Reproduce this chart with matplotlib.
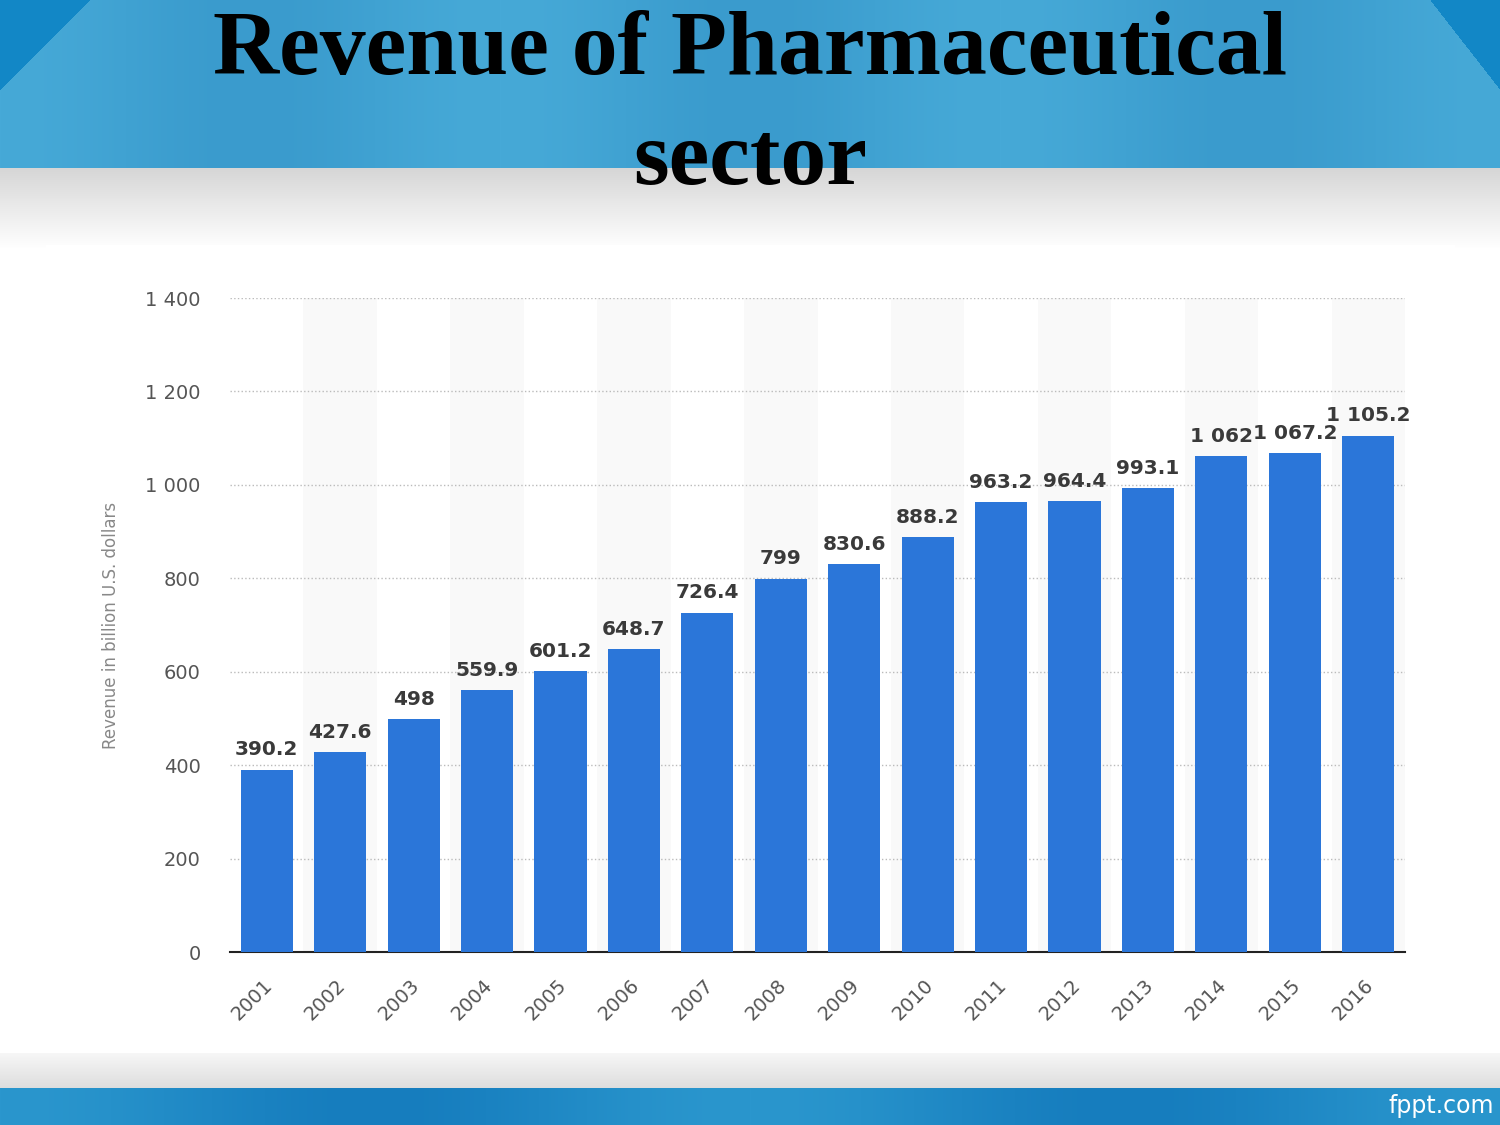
import numpy as np
import matplotlib
matplotlib.use('Agg')
import matplotlib.pyplot as plt
import matplotlib.transforms as mtransforms
from matplotlib.ticker import FuncFormatter

years = ['2001', '2002', '2003', '2004', '2005', '2006', '2007', '2008',
         '2009', '2010', '2011', '2012', '2013', '2014', '2015', '2016']
revenue = [390.2, 427.6, 498, 559.9, 601.2, 648.7, 726.4, 799,
           830.6, 888.2, 963.2, 964.4, 993.1, 1062, 1067.2, 1105.2]
yticks = [0, 200, 400, 600, 800, 1000, 1200, 1400]

bar_colour = '#2b76d9'


def fmt_num(v):
    # thousands separated by a space, decimals kept when present
    if float(v).is_integer():
        s = '{:,.0f}'.format(v)
    else:
        s = '{:,.1f}'.format(v)
    return s.replace(',', ' ')


fig = plt.figure(figsize=(15, 11.25), dpi=100)

# ---- slide background -------------------------------------------------------
H, W = 1125, 1500
bg = np.ones((H, W, 3))
yy = np.arange(H)[:, None]
xx = np.arange(W)[None, :]
top = yy < 168
blue_top = np.zeros((H, W, 3))
shade = 0.5 + 0.5 * np.cos((xx / W) * 6 * np.pi)
blue_top[..., 0] = (58 + 12 * shade) / 255
blue_top[..., 1] = (155 + 14 * shade) / 255
blue_top[..., 2] = (205 + 10 * shade) / 255
corner = ((xx + yy < 90) | (xx > 1430 + yy * 0.78))
for c, v in enumerate((18, 135, 198)):
    blue_top[..., c] = np.where(corner, v / 255, blue_top[..., c])
fade = np.clip((yy - 168) / 80.0, 0, 1)
grey = 0.84 + 0.16 * fade
for c in range(3):
    bg[..., c] = np.where(top, blue_top[..., c], grey)
low = np.clip((yy - 1052) / 35.0, 0, 1)
for c in range(3):
    bg[..., c] = np.where(yy > 1052, 0.97 - 0.1 * low, bg[..., c])
band = yy > 1087
band_shade = 0.5 + 0.5 * np.cos((xx / W) * 4 * np.pi)
for c, (v, d) in enumerate(((22, 20), (125, 25), (190, 15))):
    bg[..., c] = np.where(band, (v + d * band_shade) / 255, bg[..., c])
bax = fig.add_axes([0, 0, 1, 1])
bax.imshow(bg, aspect='auto', extent=(0, 1, 0, 1), zorder=0)
bax.axis('off')
fig.patches.append(plt.Rectangle((46 / W, 1 - 1052 / H), (1455 - 46) / W,
                                 (1052 - 245) / H, transform=fig.transFigure,
                                 facecolor='white', edgecolor='none', zorder=1))

fig.text(0.5, 1 - 52 / H, 'Revenue of Pharmaceutical', ha='center', va='center',
         family='Liberation Serif', weight='bold', fontsize=66, color='black')
fig.text(0.5, 1 - 162 / H, 'sector', ha='center', va='center',
         family='Liberation Serif', weight='bold', fontsize=66, color='black')
fig.text(1 - 6 / W, 1 - 1106 / H, 'fppt.com', ha='right', va='center',
         fontsize=17, color='white')

# ---- chart ------------------------------------------------------------------
ax = fig.add_axes([230 / W, 1 - 952 / H, 1175 / W, 654 / H], zorder=2)
ax.patch.set_alpha(0)
x = np.arange(len(years))
for i in x:
    if i % 2 == 1:
        ax.axvspan(i - 0.5, i + 0.5, color='#f9f9f9', zorder=0, lw=0)
ax.bar(x, revenue, width=0.71, color=bar_colour, zorder=3)
for xi, v in zip(x, revenue):
    ax.text(xi, v + 22, fmt_num(v), ha='center', va='bottom', fontsize=14.5,
            weight='bold', color='#3a3a3a', zorder=4)

ax.set_xlim(-0.5, 15.5)
ax.set_ylim(0, 1400)
ax.set_yticks(yticks)
ax.yaxis.set_major_formatter(FuncFormatter(lambda v, pos: fmt_num(v)))
ax.grid(axis='y', linestyle=':', color='#bbbbbb', linewidth=1, zorder=1)
ax.set_axisbelow(True)
for s in ['top', 'right', 'left']:
    ax.spines[s].set_visible(False)
ax.spines['bottom'].set_color('#222222')
ax.spines['bottom'].set_linewidth(1.5)
ax.tick_params(axis='y', length=0, pad=21, labelsize=14, labelcolor='#555555')
ax.tick_params(axis='x', length=0, pad=17, labelsize=14, labelcolor='#555555')
ax.set_xticks(x)
ax.set_xticklabels(years, rotation=45, ha='right', rotation_mode='anchor')
shift = mtransforms.ScaledTranslation(-4 / 100, 0, fig.dpi_scale_trans)
for lab in ax.get_xticklabels():
    lab.set_transform(lab.get_transform() + shift)
ax.set_ylabel('Revenue in billion U.S. dollars', fontsize=12, color='#888888',
              labelpad=18)

fig.savefig('out.png', dpi=100)
